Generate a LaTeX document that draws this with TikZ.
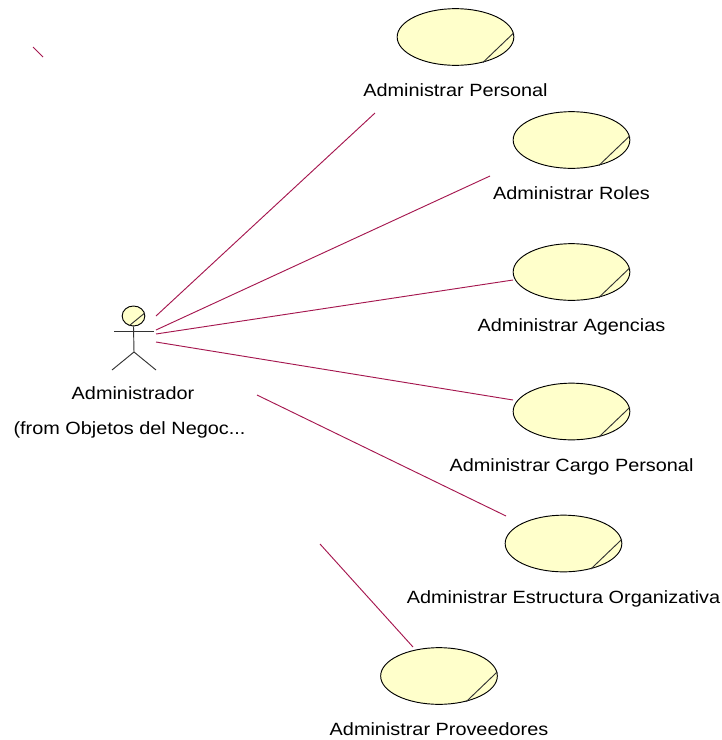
\documentclass[tikz,border=0pt]{standalone}
\usepackage{fontspec}
\setmainfont[FakeStretch=1.12]{Liberation Sans}
\usepackage{tikz}
\usetikzlibrary{positioning, shapes.geometric}
\definecolor{ucfill}{HTML}{FFFFCB}
\definecolor{assoc}{HTML}{A5174F}

\begin{document}
\begin{tikzpicture}[
    x=0.75pt, y=-0.75pt,
    node distance=10pt,
    usecase/.style={draw, ellipse, fill=ucfill, minimum width=87.5pt, minimum height=42.5pt, inner sep=0pt, line width=0.7pt},
    actorhead/.style={draw, ellipse, fill=ucfill, minimum width=17pt, minimum height=15pt, inner sep=0pt, line width=0.7pt},
    caption/.style={font=\fontsize{13.3pt}{15pt}\selectfont, inner sep=0pt, text height=10pt, text depth=3pt},
    link/.style={draw=assoc, line width=0.7pt},
    stick/.style={line width=0.7pt, draw=black!80}
]
\useasboundingbox (0,0) rectangle (722,740);

\node[usecase] (personal) at (455.5,37) {};
\node[usecase] (roles) at (571.5,140) {};
\node[usecase] (agencias) at (571.5,272) {};
\node[usecase] (cargo) at (571.5,411.5) {};
\node[usecase] (estructura) at (563.5,543.5) {};
\node[usecase] (proveedores) at (439,676) {};

\node[caption, below=13pt of personal] (personaltxt) {Administrar Personal};
\node[caption, below=13pt of roles] (rolestxt) {Administrar Roles};
\node[caption, below=13pt of agencias] (agenciastxt) {Administrar Agencias};
\node[caption, below=13pt of cargo] (cargotxt) {Administrar Cargo Personal};
\node[caption, below=13pt of estructura] (estructuratxt) {Administrar Estructura Organizativa};
\node[caption, below=13pt of proveedores] (proveedorestxt) {Administrar Proveedores};

% the small marks on the use cases
\draw[stick] (personal.4) -- (personal.-43);
\draw[stick] (roles.4) -- (roles.-43);
\draw[stick] (agencias.4) -- (agencias.-43);
\draw[stick] (cargo.4) -- (cargo.-43);
\draw[stick] (estructura.4) -- (estructura.-43);
\draw[stick] (proveedores.4) -- (proveedores.-43);

% actor
\node[actorhead] (actor) at (133.5,316) {};
\draw[stick] (actor.15) -- (actor.-114);
\coordinate (armL) at (114,331);
\coordinate (armR) at (154,331);
\coordinate (hip) at (134,352);
\coordinate (legL) at (112,370);
\coordinate (legR) at (156,370);
\draw[stick] (actor.south) -- (hip);
\draw[stick] (armL) -- (armR);
\draw[stick] (legL) -- (hip) -- (legR);

\node[caption] (actortxt) at (133,395) {Administrador};
\node[caption] (fromtxt) at (129.5,430) {(from Objetos del Negoc...};

% associations, free ends
\coordinate (stray1) at (33,47);
\coordinate (stray2) at (43,57);
\coordinate (a1) at (156,316);
\coordinate (a2) at (156,330);
\coordinate (a3) at (156,334);
\coordinate (a4) at (156,342);
\coordinate (p1) at (375,113);
\coordinate (r1) at (490,176);
\coordinate (g1) at (513,280);
\coordinate (c1) at (513,400);
\coordinate (e0) at (257,395);
\coordinate (e1) at (506,516);
\coordinate (v0) at (320,544);
\coordinate (v1) at (413,647);

\draw[link] (stray1) -- (stray2);
\draw[link] (a1) -- (p1);
\draw[link] (a2) -- (r1);
\draw[link] (a3) -- (g1);
\draw[link] (a4) -- (c1);
\draw[link] (e0) -- (e1);
\draw[link] (v0) -- (v1);

\end{tikzpicture}
\end{document}
